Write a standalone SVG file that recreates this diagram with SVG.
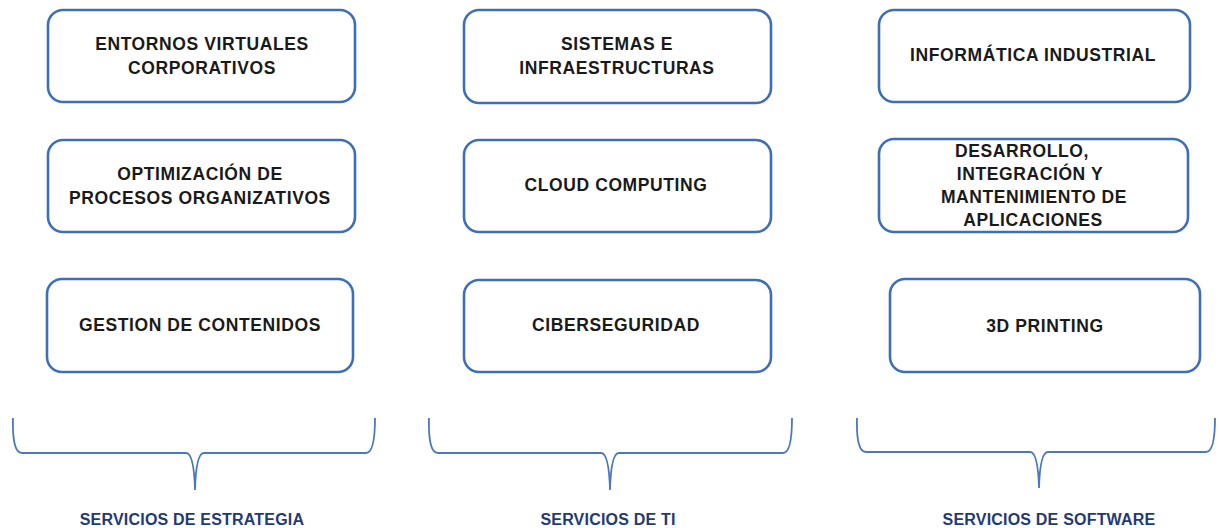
<svg xmlns="http://www.w3.org/2000/svg" width="1219" height="528" viewBox="0 0 1219 528">
<style>
.box{fill:#fff;stroke:#3d6fb6;stroke-width:2.6}
.t{font-family:"Liberation Sans",Arial,sans-serif;font-weight:bold;font-size:17.5px;letter-spacing:0.6px;fill:#1a1a1a;text-anchor:middle}
.lbl{font-family:"Liberation Sans",Arial,sans-serif;font-weight:bold;font-size:16px;letter-spacing:0.2px;fill:#1f3a78;text-anchor:middle}
.br{fill:none;stroke:#4a78bd;stroke-width:1.8}
</style>
<rect width="1219" height="528" fill="#fff"/>
<g id="n1"><rect class="box" x="48" y="10" width="307" height="92" rx="15"/><text class="t" x="202" y="50">ENTORNOS VIRTUALES</text><text class="t" x="202" y="74">CORPORATIVOS</text></g>
<g id="n2"><rect class="box" x="48" y="140" width="307" height="92" rx="15"/><text class="t" x="200" y="180">OPTIMIZACIÓN DE</text><text class="t" x="200" y="204">PROCESOS ORGANIZATIVOS</text></g>
<g id="n3"><rect class="box" x="47" y="279" width="306" height="93" rx="15"/><text class="t" x="200" y="331">GESTION DE CONTENIDOS</text></g>
<g id="n4"><rect class="box" x="464" y="10" width="307" height="93" rx="15"/><text class="t" x="617" y="50">SISTEMAS E</text><text class="t" x="617" y="74">INFRAESTRUCTURAS</text></g>
<g id="n5"><rect class="box" x="464" y="140" width="307" height="92" rx="15"/><text class="t" x="616" y="191">CLOUD COMPUTING</text></g>
<g id="n6"><rect class="box" x="464" y="280" width="307" height="92" rx="15"/><text class="t" x="616" y="331">CIBERSEGURIDAD</text></g>
<g id="n7"><rect class="box" x="879" y="10" width="311" height="92" rx="15"/><text class="t" x="1033" y="61">INFORMÁTICA INDUSTRIAL</text></g>
<g id="n8"><rect class="box" x="879" y="139" width="309" height="93" rx="15"/><text class="t" x="1022" y="157">DESARROLLO,</text><text class="t" x="1030" y="180">INTEGRACIÓN Y</text><text class="t" x="1034" y="203">MANTENIMIENTO DE</text><text class="t" x="1033" y="226">APLICACIONES</text></g>
<g id="n9"><rect class="box" x="890" y="279" width="310" height="93" rx="15"/><text class="t" x="1045" y="332">3D PRINTING</text></g>
<g id="connectors">
<path class="br" d="M13,418 Q12,453 22,453 L186,453 Q194,453 195,490 Q196,453 204,453 L366,453 Q375,453 375,418"/>
<path class="br" d="M429,418 Q428,453 438,453 L601,453 Q609,453 610,490 Q611,453 619,453 L783,453 Q792,453 792,418"/>
<path class="br" d="M857,418 Q856,452 866,452 L1030,452 Q1038,452 1039,488 Q1040,452 1048,452 L1206,452 Q1215,452 1215,418"/>
</g>
<g id="labels">
<text class="lbl" x="192" y="525">SERVICIOS DE ESTRATEGIA</text>
<text class="lbl" x="608" y="525">SERVICIOS DE TI</text>
<text class="lbl" x="1049" y="525">SERVICIOS DE SOFTWARE</text>
</g>
</svg>
